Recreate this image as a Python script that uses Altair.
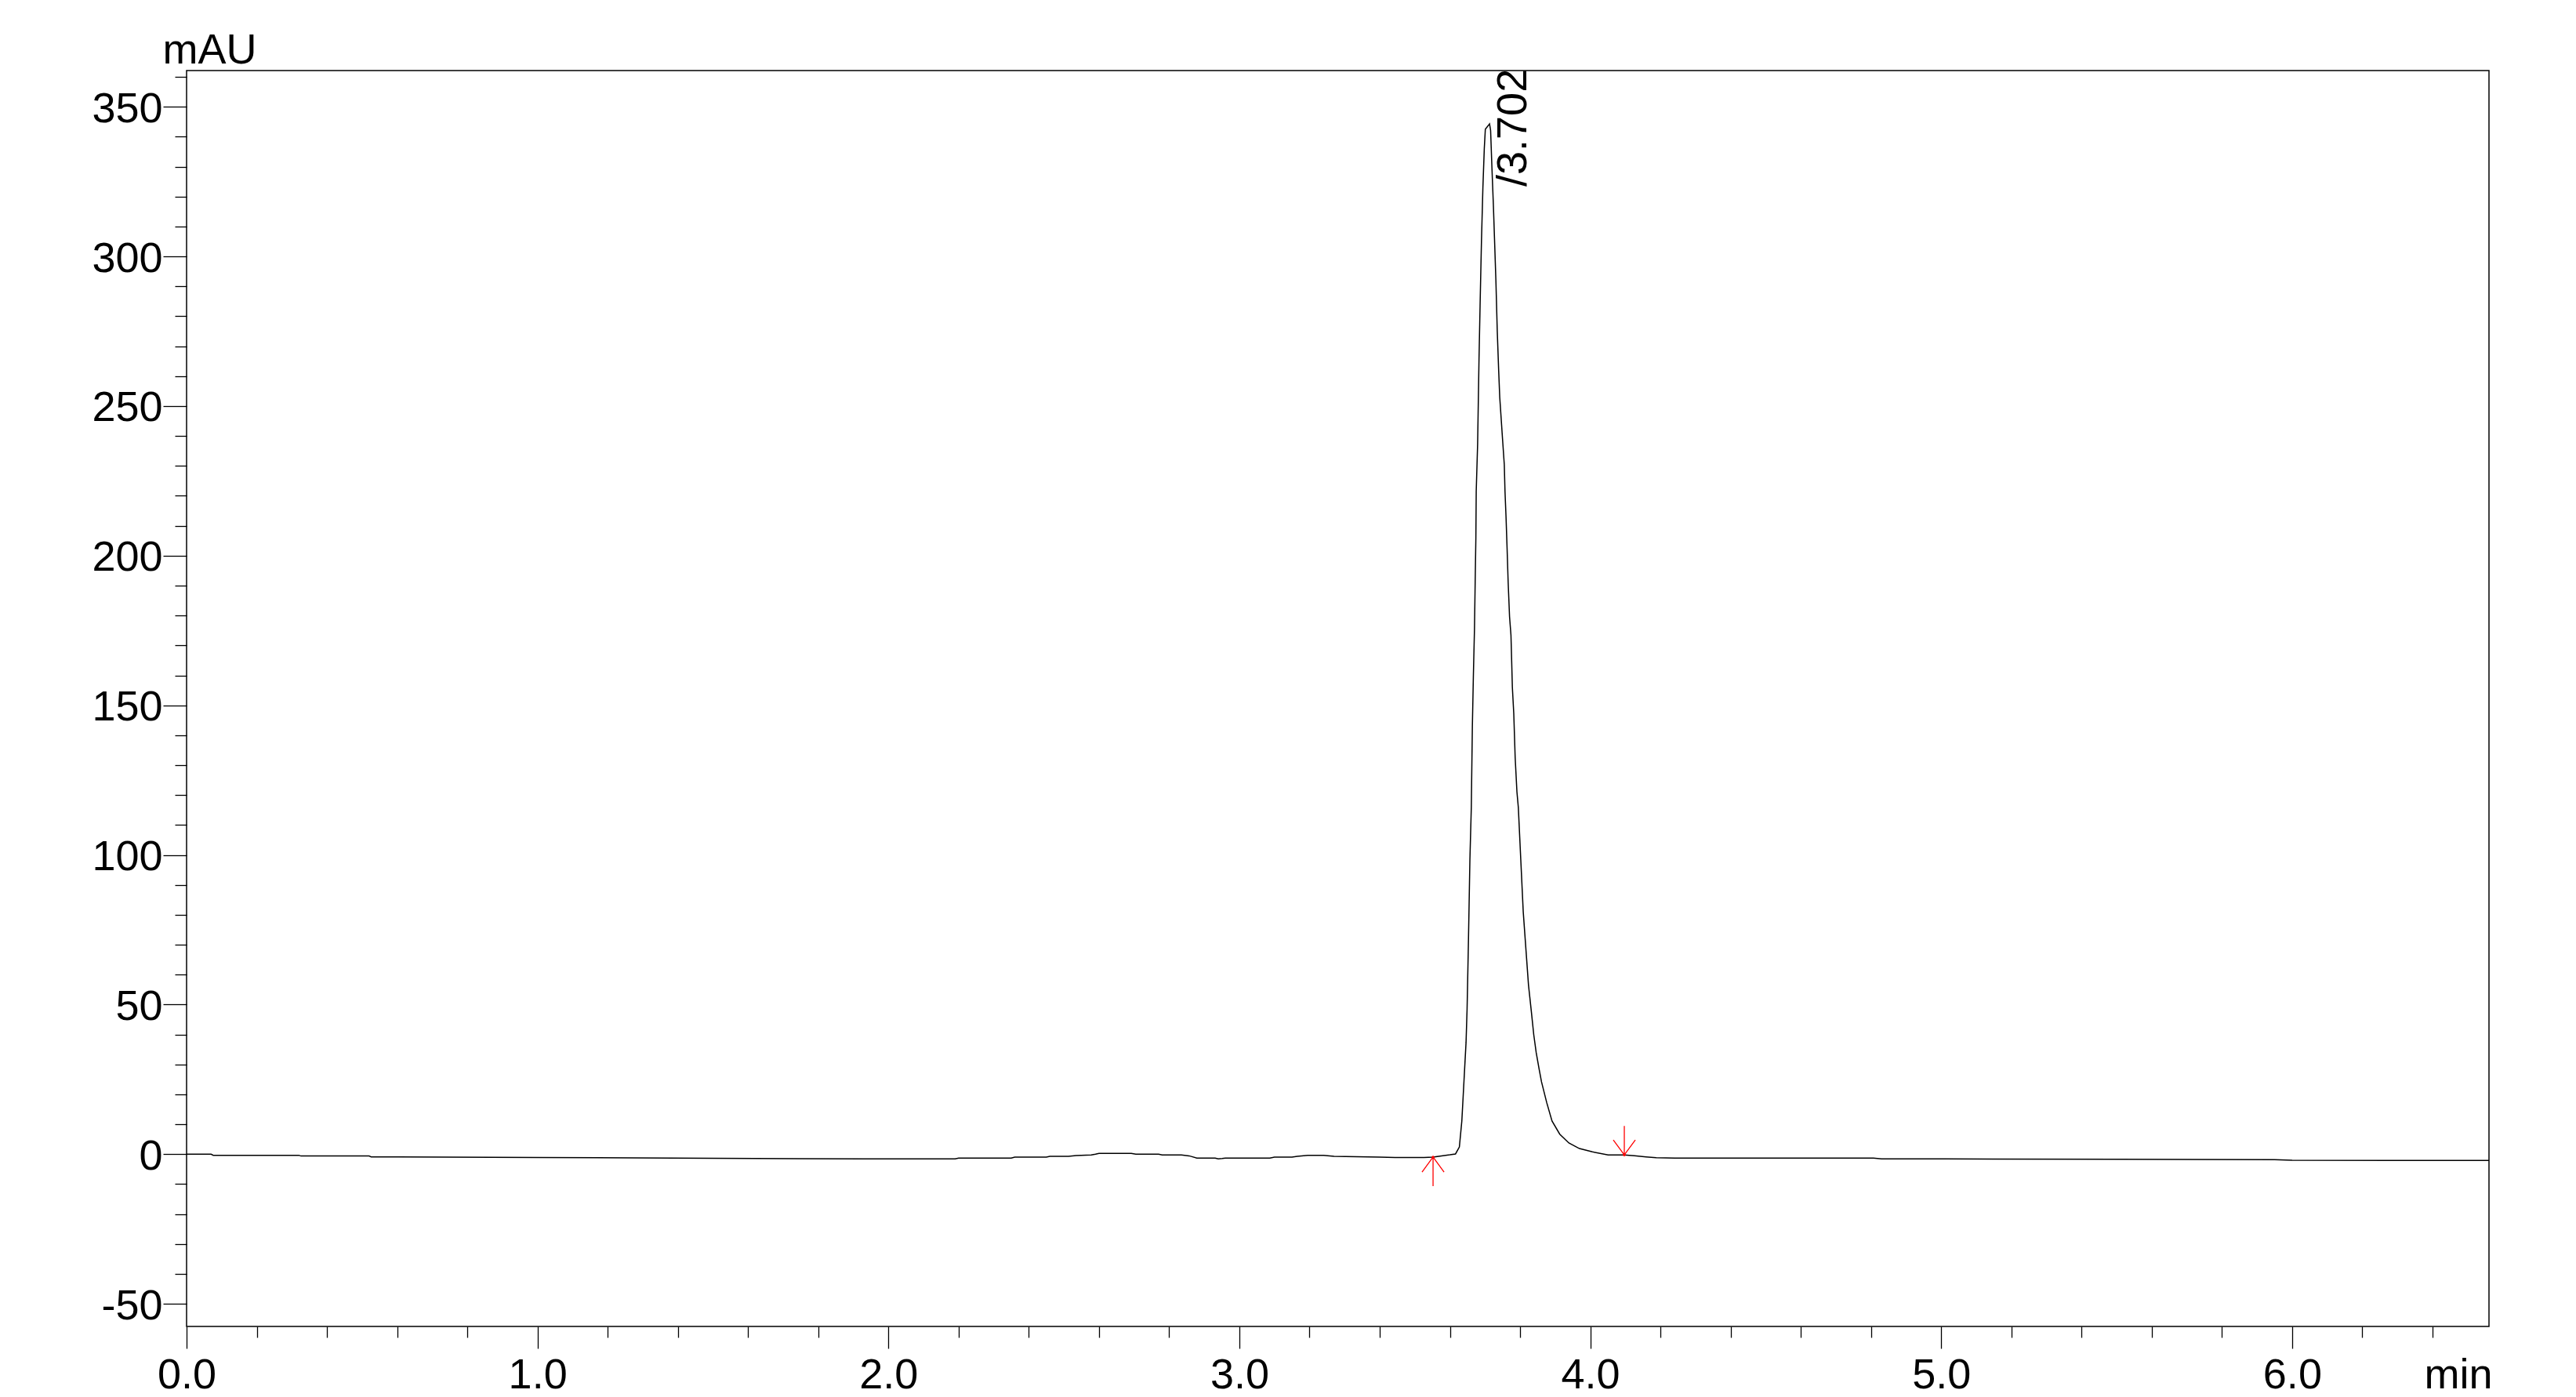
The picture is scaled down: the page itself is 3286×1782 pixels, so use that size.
import altair as alt
import pandas as pd

# ---------------- data ----------------
time_min = [
    0.000, 0.070, 0.076, 0.320, 0.326, 0.520, 0.526, 1.000, 1.500, 1.926,
    2.190, 2.200, 2.350, 2.360, 2.450, 2.460, 2.513, 2.535, 2.578, 2.590,
    2.600, 2.692, 2.705, 2.770, 2.780, 2.835, 2.857, 2.879, 2.931, 2.940,
    2.951, 2.960, 3.087, 3.100, 3.150, 3.165, 3.195, 3.240, 3.270, 3.400,
    3.444, 3.526, 3.552, 3.580, 3.600, 3.616, 3.627, 3.634, 3.638, 3.642,
    3.646, 3.649, 3.653, 3.657, 3.661, 3.664, 3.667, 3.670, 3.672, 3.674,
    3.675, 3.679, 3.683, 3.686, 3.690, 3.694, 3.698, 3.701, 3.713, 3.716,
    3.720, 3.724, 3.727, 3.731, 3.735, 3.739, 3.742, 3.750, 3.755, 3.757,
    3.760, 3.763, 3.766, 3.770, 3.774, 3.776, 3.778, 3.782, 3.786, 3.791,
    3.795, 3.802, 3.809, 3.817, 3.824, 3.832, 3.839, 3.846, 3.854, 3.861,
    3.876, 3.891, 3.913, 3.939, 3.969, 4.006, 4.051, 4.097, 4.126, 4.159,
    4.188, 4.241, 4.807, 4.830, 5.008, 5.500, 5.950, 6.000, 6.561,
]
absorbance_mau = [
    0.00, 0.00, -0.35, -0.35, -0.60, -0.60, -0.87, -1.10, -1.35, -1.57,
    -1.57, -1.31, -1.31, -0.96, -0.96, -0.70, -0.70, -0.45, -0.26, 0.00,
    0.26, 0.26, 0.00, 0.00, -0.26, -0.26, -0.55, -1.31, -1.31, -1.57,
    -1.45, -1.31, -1.31, -0.96, -0.96, -0.70, -0.35, -0.35, -0.70, -0.96,
    -1.13, -1.13, -0.96, -0.50, -0.20, 0.09, 2.40, 11.1, 19.8, 28.6,
    37.3, 48.6, 72.2, 98.4, 115.9, 142.9, 160.4, 175.3, 191.1, 205.8,
    221.5, 237.3, 266.1, 283.5, 305.4, 322.9, 336.0, 342.5, 344.3, 342.1,
    329.0, 316.8, 306.3, 292.3, 274.9, 261.8, 253.0, 239.0, 230.4, 221.5,
    212.8, 202.3, 191.1, 179.6, 173.5, 164.9, 156.0, 147.3, 132.5, 121.1,
    115.9, 98.4, 81.0, 67.9, 56.5, 47.8, 39.9, 33.9, 28.6, 24.2,
    17.2, 11.1, 6.7, 3.76, 1.90, 0.80, -0.25, -0.25, -0.52, -0.88,
    -1.14, -1.31, -1.31, -1.57, -1.57, -1.70, -1.85, -2.00, -2.10,
]

# integration markers (peak start / end)
marker_time = [3.552, 4.097]
marker_value = [-0.96, -0.25]
marker_kind = ["start", "end"]

# peak annotation
peak_time = [3.702]
peak_value = [344.3]
peak_text = ["/3.702"]

# axes
x_tick_values = [0.0, 0.2, 0.4, 0.6, 0.8, 1.0, 1.2, 1.4, 1.6, 1.8, 2.0, 2.2, 2.4,
                 2.6, 2.8, 3.0, 3.2, 3.4, 3.6, 3.8, 4.0, 4.2, 4.4, 4.6, 4.8, 5.0,
                 5.2, 5.4, 5.6, 5.8, 6.0, 6.2, 6.4]
y_tick_values = [-50, -40, -30, -20, -10, 0, 10, 20, 30, 40, 50, 60, 70, 80, 90,
                 100, 110, 120, 130, 140, 150, 160, 170, 180, 190, 200, 210, 220,
                 230, 240, 250, 260, 270, 280, 290, 300, 310, 320, 330, 340, 350, 360]
x_domain = [0.0, 6.561]
y_domain = [-57.55, 362.1]
x_title = "min"
y_title = "mAU"

# ---------------- chart ----------------
FONT = "Liberation Sans"
FS = 54
W, H = 2937, 1602

trace_df = pd.DataFrame({"t": time_min, "v": absorbance_mau})
marker_df = pd.DataFrame({"t": marker_time, "v": marker_value, "kind": marker_kind})
peak_df = pd.DataFrame({"t": peak_time, "v": peak_value, "label": peak_text})

is_major_x = "abs(datum.value - round(datum.value)) < 1e-6"
is_major_y = "abs(datum.value % 50) < 1e-6"

x_axis = alt.Axis(
    values=x_tick_values,
    labelExpr=f"{is_major_x} ? format(datum.value, '.1f') : ''",
    tickSize={"condition": {"test": is_major_x, "value": 28}, "value": 14},
    labelFontSize={"condition": {"test": is_major_x, "value": FS}, "value": 1},
    labelPadding=7,
    labelOverlap=False,
    labelFlush=False,
    labelBound=False,
    title=x_title,
    titleX=2941,
    titleY=78,
    titleAlign="right",
    titleBaseline="alphabetic",
    domain=False,
    grid=False,
)
y_axis = alt.Axis(
    values=y_tick_values,
    labelExpr=f"{is_major_y} ? '' + datum.value : ''",
    tickSize={"condition": {"test": is_major_y, "value": 30}, "value": 15},
    labelFontSize={"condition": {"test": is_major_y, "value": FS}, "value": 1},
    labelPadding=1,
    labelOffset=3,
    labelOverlap=False,
    labelFlush=False,
    labelBound=False,
    title=y_title,
    titleAngle=0,
    titleX=-31,
    titleY=-10,
    titleAlign="left",
    titleBaseline="alphabetic",
    domain=False,
    grid=False,
)

xs = alt.Scale(domain=x_domain, nice=False, zero=False)
ys = alt.Scale(domain=y_domain, nice=False, zero=False)

X = alt.X("t:Q", scale=xs, axis=x_axis)
Y = alt.Y("v:Q", scale=ys, axis=y_axis)

line = alt.Chart(trace_df).mark_line(color="black", strokeWidth=1.5, clip=True).encode(x=X, y=Y)

UP = "M0,0L0,2M-0.76,1.03L0,0L0.76,1.03"
DOWN = "M0,0L0,-2M-0.76,-1.03L0,0L0.76,-1.03"

arrows = alt.Chart(marker_df).mark_point(
    filled=False, strokeWidth=1.3, size=1369, opacity=1, color="#ff0000"
).encode(
    x=X,
    y=Y,
    shape=alt.Shape("kind:N", scale=alt.Scale(domain=["start", "end"], range=[UP, DOWN]), legend=None),
)
dots = alt.Chart(marker_df).mark_point(
    filled=True, size=12, opacity=1, color="#ff0000"
).encode(x=X, y=Y)

label = alt.Chart(peak_df).mark_text(
    angle=270, align="left", baseline="alphabetic", font=FONT, fontSize=FS,
    dx=-80, dy=52, color="black",
).encode(x=X, y=Y, text="label:N")

chart = (
    alt.layer(line, arrows, dots, label)
    .properties(
        width=W,
        height=H,
        autosize=alt.AutoSizeParams(type="none"),
        padding={"left": 230, "top": 82, "right": 60, "bottom": 89},
        background="white",
    )
    .configure_view(stroke="black", strokeWidth=1.5)
    .configure_axis(
        labelFont=FONT,
        labelFontSize=FS,
        labelColor="black",
        labelOverlap=False,
        titleFont=FONT,
        titleFontSize=FS,
        titleFontWeight="normal",
        titleColor="black",
        tickColor="black",
        tickWidth=1.3,
    )
)

chart.save("out.html", embed_options={"renderer": "svg", "actions": False})
